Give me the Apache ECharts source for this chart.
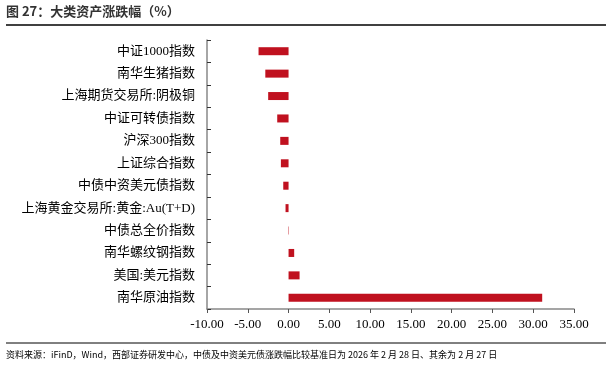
<!DOCTYPE html>
<html>
<head>
<meta charset="utf-8">
<script src="https://cdn.jsdelivr.net/npm/echarts@6/dist/echarts.min.js"></script>
<style>
  html, body { margin: 0; padding: 0; background: #fff; }
  #main { width: 612px; height: 369px; }
</style>
</head>
<body>
<div id="main"></div>
<script>
// categories, top to bottom
var categories = ['中证1000指数', '南华生猪指数', '上海期货交易所:阴极铜', '中证可转债指数', '沪深300指数',
    '上证综合指数', '中债中资美元债指数', '上海黄金交易所:黄金:Au(T+D)', '中债总全价指数',
    '南华螺纹钢指数', '美国:美元指数', '南华原油指数'];
var values = [-3.68, -2.85, -2.5, -1.39, -1.02, -0.94, -0.65, -0.37, -0.05, 0.69, 1.35, 31.1];
var xTicks = [-10, -5, 0, 5, 10, 15, 20, 25, 30, 35];

var serif = '"Liberation Serif", "Noto Sans CJK SC", serif';
var myChart = echarts.init(document.getElementById('main'));

var option = {
    animation: false,
    grid: {
        left: 207,
        right: 38,
        top: 40,
        bottom: 60
    },
    xAxis: {
        type: 'value',
        min: xTicks[0],
        max: xTicks[xTicks.length - 1],
        interval: 5,
        splitLine: { show: false },
        axisLine: { show: true, onZero: false, lineStyle: { color: '#888', width: 1.5 } },
        axisTick: { show: true, length: 4, lineStyle: { color: '#555' } },
        axisLabel: {
            margin: 9,
            fontFamily: serif,
            fontSize: 13,
            color: '#000',
            formatter: function (v) { return v.toFixed(2); }
        }
    },
    yAxis: [{
        type: 'category',
        data: categories,
        inverse: true,
        position: 'left',
        axisLine: { show: false },
        axisTick: { show: false },
        axisLabel: {
            margin: 12,
            fontFamily: serif,
            fontSize: 13,
            color: '#000'
        }
    }, {
        type: 'category',
        data: categories,
        inverse: true,
        position: 'left',
        axisLine: { show: true, onZero: true, lineStyle: { color: '#888', width: 1.5 } },
        axisTick: { show: true, inside: true, length: 4, lineStyle: { color: '#333' } },
        axisLabel: { show: false }
    }],
    series: [{
        name: '涨跌幅',
        type: 'bar',
        yAxisIndex: 0,
        data: values,
        barWidth: 8,
        itemStyle: { color: '#C0111F' }
    }],
    graphic: [
        {
            type: 'text', left: 6, top: 5,
            style: {
                text: '图 27：大类资产涨跌幅（%）',
                font: 'bold 13px "Noto Sans CJK SC", sans-serif',
                fill: '#333'
            }
        },
        {
            type: 'line',
            shape: { x1: 6, y1: 25, x2: 606, y2: 25 },
            style: { stroke: '#000', lineWidth: 1.5 }
        },
        {
            type: 'line',
            shape: { x1: 6, y1: 343, x2: 606, y2: 343 },
            style: { stroke: '#000', lineWidth: 1 }
        },
        {
            type: 'text', left: 6, top: 350,
            style: {
                text: '资料来源：iFinD，Wind，西部证券研发中心，中债及中资美元债涨跌幅比较基准日为 2026 年 2 月 28 日、其余为 2 月 27 日',
                font: '9px "Noto Sans CJK SC", sans-serif',
                fill: '#000'
            }
        }
    ]
};

myChart.setOption(option);
</script>
</body>
</html>
